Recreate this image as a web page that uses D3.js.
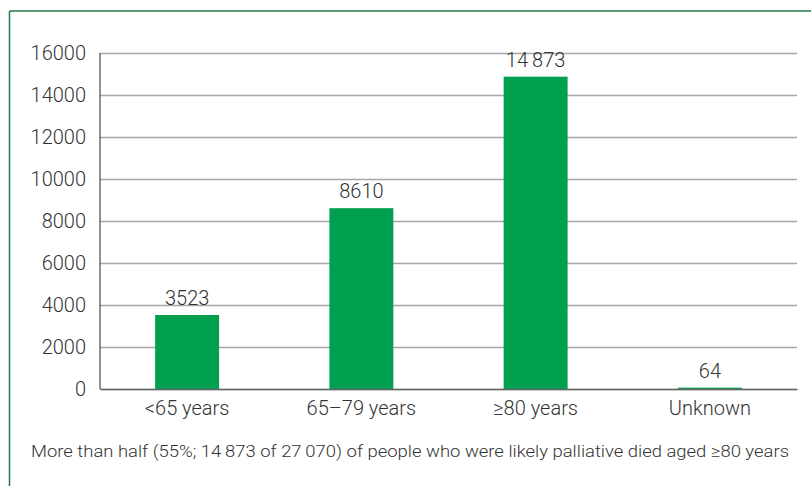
<!DOCTYPE html>
<html>
<head>
<meta charset="utf-8">
<script src="https://cdn.jsdelivr.net/npm/d3@7"></script>
<style>
  html, body { margin: 0; padding: 0; background: #fff; }
  svg { display: block; font-family: Roboto, "Liberation Sans", sans-serif; }
</style>
</head>
<body>
<svg id="chart" width="811" height="486"></svg>
<script>
// Deaths of likely palliative people, by age group
const categories = ["<65 years", "65\u201379 years", "\u226580 years", "Unknown"];
const deaths = [3523, 8610, 14873, 64];
const yTicks = [0, 2000, 4000, 6000, 8000, 10000, 12000, 14000, 16000];
const caption = "More than half (55%; 14\u2009873 of 27\u2009070) of people who were likely palliative died aged \u226580 years";

const svg = d3.select("#chart");
const W = 811, H = 486;
const plot = { left: 100, right: 797, top: 53, bottom: 389 };

// Outer frame: top and left rules only
svg.append("line").attr("x1", 9.5).attr("x2", W).attr("y1", 11).attr("y2", 11)
  .attr("stroke", "#1f7a46").attr("stroke-width", 1.5);
svg.append("line").attr("x1", 9.5).attr("x2", 9.5).attr("y1", 11).attr("y2", H)
  .attr("stroke", "#1f7a46").attr("stroke-width", 1.5);

const x = d3.scaleBand()
  .domain(categories)
  .range([plot.left, plot.right])
  .paddingInner(0.633)
  .paddingOuter(0.3165);

const y = d3.scaleLinear()
  .domain([0, 16000])
  .range([plot.bottom, plot.top]);

// Horizontal gridlines
const grid = svg.append("g")
  .attr("transform", `translate(${plot.left},0)`)
  .call(d3.axisLeft(y).tickValues(yTicks).tickSize(-(plot.right - plot.left)).tickFormat(""));
grid.select(".domain").remove();
grid.selectAll(".tick line").attr("stroke", "#a6a6a6").attr("stroke-width", 1.4);

// Y axis labels
const yAxis = svg.append("g")
  .attr("transform", `translate(${plot.left},0)`)
  .call(d3.axisLeft(y).tickValues(yTicks).tickSize(0).tickPadding(14).tickFormat(d3.format("d")));
yAxis.select(".domain").remove();
yAxis.selectAll("text")
  .attr("fill", "#333").style("font-size", "20px").style("font-family", "Roboto, sans-serif").attr("font-weight", 300);

// Bars
svg.append("g").selectAll("rect")
  .data(deaths)
  .join("rect")
  .attr("x", (d, i) => x(categories[i]))
  .attr("width", x.bandwidth())
  .attr("y", d => y(d))
  .attr("height", d => y(0) - y(d))
  .attr("fill", "#00a04f");

// Value labels
const locale = d3.formatLocale({ decimal: ".", thousands: "\u2009", grouping: [3] });
const grouped = locale.format(",d");
const fmtValue = v => v >= 10000 ? grouped(v) : String(v);
svg.append("g").selectAll("text")
  .data(deaths)
  .join("text")
  .attr("x", (d, i) => x(categories[i]) + x.bandwidth() / 2)
  .attr("y", d => y(d) - 10)
  .attr("text-anchor", "middle")
  .attr("fill", "#333")
  .attr("font-weight", 300)
  .style("font-size", "20px")
  .text(fmtValue);

// Y axis line
svg.append("line")
  .attr("x1", plot.left).attr("x2", plot.left)
  .attr("y1", plot.top).attr("y2", plot.bottom)
  .attr("stroke", "#555").attr("stroke-width", 1.3);

// X axis
const xAxis = svg.append("g")
  .attr("transform", `translate(0,${plot.bottom})`)
  .call(d3.axisBottom(x).tickSize(0).tickPadding(12));
xAxis.select(".domain").attr("stroke", "#666").attr("stroke-width", 1.5);
xAxis.selectAll("text")
  .attr("fill", "#333").style("font-size", "20px").style("font-family", "Roboto, sans-serif").attr("font-weight", 300);

// Caption
svg.append("text")
  .attr("x", 31).attr("y", 457)
  .attr("fill", "#333")
  .attr("font-weight", 300)
  .style("font-size", "16.5px")
  .attr("textLength", 758)
  .attr("lengthAdjust", "spacingAndGlyphs")
  .text(caption);
</script>
</body>
</html>
